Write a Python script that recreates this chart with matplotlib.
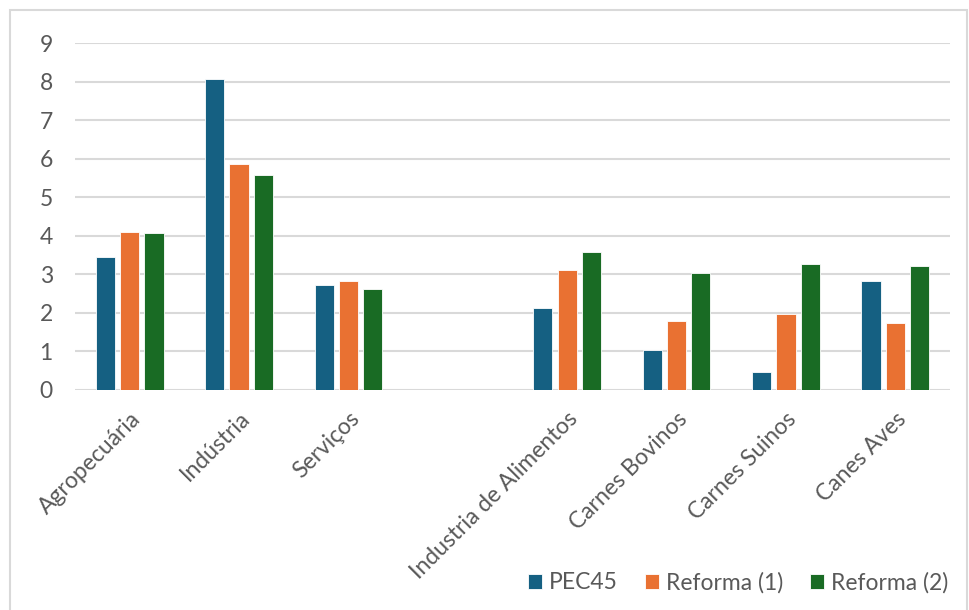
import matplotlib.pyplot as plt
import numpy as np
from matplotlib.patches import Rectangle

plt.rcParams['font.family'] = ['Lato', 'DejaVu Sans']

categories = ['Agropecuária', 'Indústria', 'Serviços', '',
              'Industria de Alimentos', 'Carnes Bovinos', 'Carnes Suinos', 'Canes Aves']
pec45 = [3.45, 8.07, 2.72, np.nan, 2.12, 1.04, 0.47, 2.82]
reforma1 = [4.11, 5.85, 2.82, np.nan, 3.10, 1.80, 1.98, 1.73]
reforma2 = [4.07, 5.58, 2.62, np.nan, 3.59, 3.03, 3.28, 3.21]
series_names = ['PEC45', 'Reforma (1)', 'Reforma (2)']
colors = ['#156082', '#E97132', '#196B24']

fig = plt.figure(figsize=(9.69, 6.10), dpi=100)
# outer chart frame
fig.patches.append(Rectangle((10 / 969, -0.01), 957 / 969, 1 - 10 / 610 + 0.01,
                             transform=fig.transFigure, fill=False,
                             edgecolor='#d9d9d9', linewidth=1.5))

ax = fig.add_axes([75 / 969, 1 - 390 / 610, 875 / 969, 347 / 610])

x = np.arange(len(categories))
width = 0.175
step = 0.222
for i, (vals, name) in enumerate(zip([pec45, reforma1, reforma2], series_names)):
    ax.bar(x + (i - 1) * step, vals, width, color=colors[i], label=name,
           edgecolor='white', linewidth=0.6, zorder=3)

ax.set_xlim(-0.5, len(categories) - 0.5)
ax.set_ylim(0, 9)
ax.set_yticks(range(10))
ax.grid(axis='y', color='#d9d9d9', linewidth=1.5, zorder=0)
for s in ax.spines.values():
    s.set_visible(False)
ax.tick_params(axis='both', length=0, colors='#595959', labelsize=16.5)
ax.tick_params(axis='y', pad=16)
ax.set_xticks(x)
ax.set_xticklabels(categories, rotation=45, ha='right', rotation_mode='anchor')
ax.tick_params(axis='x', pad=13)

ax.legend(loc='lower right', bbox_to_anchor=(969 / 969, -4 / 610),
          bbox_transform=fig.transFigure, ncol=3, frameon=False,
          fontsize=16.5, labelcolor='#595959', handlelength=0.6, handleheight=0.6,
          handletextpad=0.3, columnspacing=1.2)

fig.savefig('out.png', dpi=100)
